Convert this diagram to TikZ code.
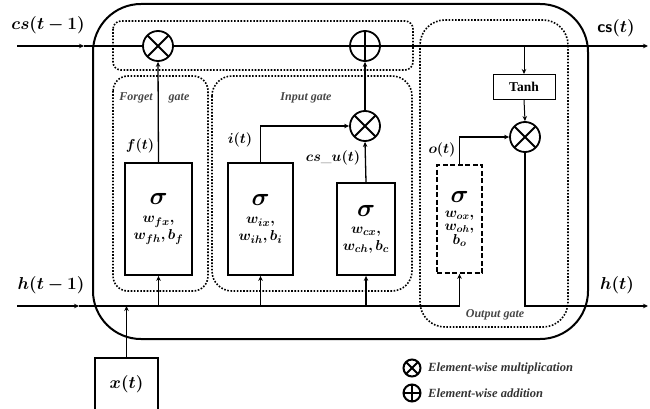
\documentclass[tikz,border=0pt]{standalone}
\usepackage{amsmath,bm}
\usepackage{fontspec}
\newfontfamily\tnr{Liberation Serif}
\usetikzlibrary{arrows.meta,calc}
\tikzset{
  conn/.style={line width=1.3pt},
  arr/.style={conn,-{Stealth[length=5pt,width=4.5pt]}},
  thinarr/.style={line width=1pt,-{Stealth[length=5pt,width=4.5pt]}},
  gatebox/.style={line width=1.6pt,dash pattern=on 1.6pt off 1.6pt},
  sbox/.style={draw,line width=1.8pt,align=center,inner sep=1pt,font=\fontsize{15}{17}\selectfont},
  mult/.style={circle,draw,line width=1.8pt,minimum size=30pt,inner sep=0pt,
    path picture={\draw[line width=1.8pt] (path picture bounding box.north west) -- (path picture bounding box.south east)
      (path picture bounding box.north east) -- (path picture bounding box.south west);}},
  plus/.style={circle,draw,line width=1.8pt,minimum size=30pt,inner sep=0pt,
    path picture={\draw[line width=1.8pt] (path picture bounding box.north) -- (path picture bounding box.south)
      (path picture bounding box.east) -- (path picture bounding box.west);}},
  lbl/.style={font=\fontsize{16.5}{19}\selectfont,inner sep=0pt},
  gatelbl/.style={font=\tnr\bfseries\itshape\fontsize{12}{14}\selectfont,text=black!72,inner sep=0pt},
  leglbl/.style={font=\tnr\bfseries\itshape\fontsize{12.5}{14}\selectfont,text=black!80,inner sep=0pt,anchor=west},
}
\begin{document}
\begin{tikzpicture}[x=1pt,y=-1pt]
\useasboundingbox (0,0) rectangle (650,409);
% main cell
\draw[line width=2pt,rounded corners=48pt] (93,4) rectangle (588,339);
% dotted group boxes
\draw[gatebox,rounded corners=8pt] (113,21) rectangle (413,70);
\draw[gatebox,rounded corners=15pt] (113,76) rectangle (208,291);
\draw[gatebox,rounded corners=20pt] (212,76) rectangle (412,291);
\draw[gatebox,rounded corners=25pt] (420,20) rectangle (568,327);

% operators
\node[mult] (m1) at (158,46) {};
\node[plus] (p1) at (365,46) {};
\node[mult] (mi) at (365,126) {};
\node[mult] (mo) at (525,137) {};

% sigma boxes
\node[sbox,minimum width=67pt,minimum height=112pt] (fbox) at (158.5,219)
  {{\fontsize{23}{24}\selectfont$\bm{\sigma}$}\\[1pt] $\bm{w_{fx},}$\\ $\bm{w_{fh}, b_f}$};
\node[sbox,minimum width=65pt,minimum height=112pt] (ibox) at (260.5,219)
  {{\fontsize{23}{24}\selectfont$\bm{\sigma}$}\\[1pt] $\bm{w_{ix},}$\\ $\bm{w_{ih}, b_i}$};
\node[sbox,minimum width=58pt,minimum height=92pt] (cbox) at (366,229)
  {{\fontsize{23}{24}\selectfont$\bm{\sigma}$}\\[0pt] $\bm{w_{cx},}$\\ $\bm{w_{ch}, b_c}$};
\node[sbox,dashed,dash pattern=on 5pt off 2.5pt,minimum width=45pt,minimum height=108pt,font=\fontsize{14}{13.5}\selectfont] (obox) at (459.5,219)
  {{\fontsize{23}{24}\selectfont$\bm{\sigma}$}\\[1pt] $\bm{w_{ox},}$\\ $\bm{w_{oh},}$\\ $\bm{b_o}$};
\node[draw,line width=1pt,minimum width=62pt,minimum height=25pt,inner sep=0pt,
  font=\tnr\bfseries\fontsize{13.5}{15}\selectfont] (tanh) at (524,87) {Tanh};
\node[draw,line width=1.5pt,minimum width=63pt,minimum height=52pt,inner sep=0pt,
  font=\fontsize{16.5}{19}\selectfont] (xt) at (126.5,384) {$\bm{x(t)}$};

% coordinates
\coordinate (csin) at (17,46);
\coordinate (csmid) at (84,46);
\coordinate (csout) at (648,46);
\coordinate (tanhtop) at (524,46);
\coordinate (hin) at (17,306);
\coordinate (hmid) at (79,306);
\coordinate (hturn) at (459.5,306);
\coordinate (hf) at (158.5,306);
\coordinate (hi) at (260.5,306);
\coordinate (hc) at (366,306);
\coordinate (hx) at (126.5,306);
\coordinate (hcorner) at (525,306);
\coordinate (hout) at (648,306);
\coordinate (icorner) at (260.5,126);
\coordinate (ocorner) at (459.5,137);

% cell state line
\draw[arr] (csin) -- (csmid);
\draw[conn] (csmid) -- (m1);
\draw[conn] (m1) -- (p1);
\draw[arr] (p1) -- (csout);
\draw[thinarr] (tanhtop) -- (tanh.north);
\draw[thinarr] (tanh.south) -- (mo.north);

% gate outputs
\draw[arr] (fbox.north) -- (m1.south);
\draw[arr] (ibox.north) -- (icorner) -- (mi.west);
\draw[arr] (cbox.north) -- (mi.south);
\draw[arr] (mi.north) -- (p1.south);
\draw[arr] (obox.north) -- (ocorner) -- (mo.west);
\draw[arr] (mo.south) -- (hcorner) -- (hout);

% hidden state input
\draw[arr] (hin) -- (hmid);
\draw[conn] (hmid) -- (hturn);
\draw[arr] (hturn) -- (obox.south);
\draw[arr] (hf) -- (fbox.south);
\draw[arr] (hi) -- (ibox.south);
\draw[arr] (hc) -- (cbox.south);
\draw[arr] (xt.north) -- (hx);

% labels
\node[lbl] (lcsin) at (48,25) {$\bm{cs(t-1)}$};
\node[lbl] (lcsout) at (616,28) {{\sffamily\bfseries cs}$\bm{(t)}$};
\node[lbl] (lhin) at (51,285) {$\bm{h(t-1)}$};
\node[lbl] (lhout) at (617,285) {$\bm{h(t)}$};
\node[lbl,font=\fontsize{15.5}{17}\selectfont] (lf) at (140,146) {$\bm{f(t)}$};
\node[lbl,font=\fontsize{15.5}{17}\selectfont] (li) at (240,140) {$\bm{i(t)}$};
\node[lbl,font=\fontsize{15.5}{17}\selectfont] (lc) at (333,158) {$\bm{cs\_u(t)}$};
\node[lbl,font=\fontsize{15.5}{17}\selectfont] (lo) at (442,150) {$\bm{o(t)}$};

\node[gatelbl] (gf1) at (136,98) {Forget};
\node[gatelbl] (gf2) at (179,98) {gate};
\node[gatelbl] (gi) at (306,98) {Input gate};
\node[gatelbl] (go) at (495,315) {Output gate};

% legend
\node[mult,minimum size=17pt,line width=2pt] (legm) at (412,368) {};
\node[plus,minimum size=17pt,line width=2pt] (legp) at (412,393) {};
\node[leglbl] (legmt) at (428,368) {Element-wise multiplication};
\node[leglbl] (legpt) at (428,393) {Element-wise addition};
\end{tikzpicture}
\end{document}
